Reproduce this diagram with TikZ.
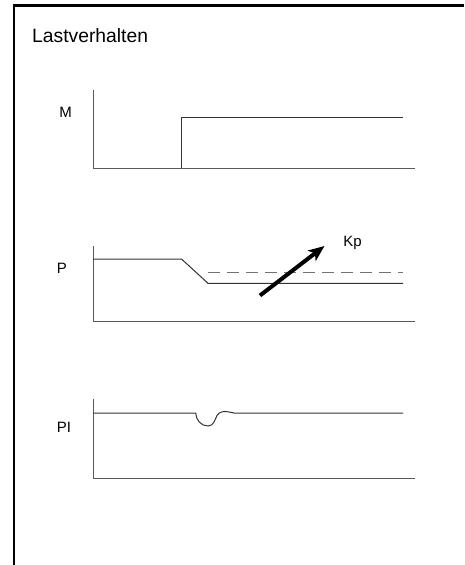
\documentclass[tikz,border=0pt]{standalone}
\usepackage{fontspec}
\setmainfont{Liberation Sans}
\usetikzlibrary{arrows.meta}
\begin{document}
\begin{tikzpicture}[x=1pt,y=-1pt,
  axis/.style={draw=black!65,line width=1pt},
  sig/.style={draw=black!80,line width=1pt},
  dash line/.style={draw=black!55,line width=1.5pt,dash pattern=on 12pt off 7pt},
  lbl/.style={font=\fontsize{15}{17}\selectfont,inner sep=0pt},
  frame/.style={draw=black,line width=2.6pt}]
\useasboundingbox (0,0) rectangle (464,565);
\draw[frame] (464,5.5) -- (14,5.5) -- (14,566);
\node[font=\fontsize{19.3}{22}\selectfont,inner sep=0pt,anchor=base west] (title) at (32,42) {Lastverhalten};
% M
\node[lbl] (M) at (65.5,112) {M};
\draw[axis] (93,90) -- (93,168) -- (415,168);
\draw[sig] (181.5,168) -- (181.5,117) -- (403,117);
% P
\node[lbl] (P) at (62,268) {P};
\draw[axis] (93,246) -- (93,321) -- (415,321);
\draw[sig] (93,259) -- (181.5,259) -- (208,283.3) -- (403,283.3);
\draw[dash line] (208,272.3) -- (403,272.3);
\coordinate (a0) at (260,295.5);
\coordinate (a1) at (324.5,246);
\draw[line width=4pt,-{Stealth[length=16pt,width=13pt,inset=4pt]}] (a0) -- (a1);
\node[lbl] (Kp) at (352.5,243) {Kp};
% PI
\node[lbl] (PI) at (64,427) {PI};
\draw[axis] (93,399) -- (93,478) -- (415,478);
\draw[sig] (93,413) -- (195.7,413)
  .. controls (196,420) and (201,426) .. (208,426)
  .. controls (214,426) and (215,419) .. (217,415.5)
  .. controls (219,412) and (224,410.5) .. (229,412)
  .. controls (231,412.7) and (232,413) .. (234,413) -- (403,413);
\end{tikzpicture}
\end{document}
